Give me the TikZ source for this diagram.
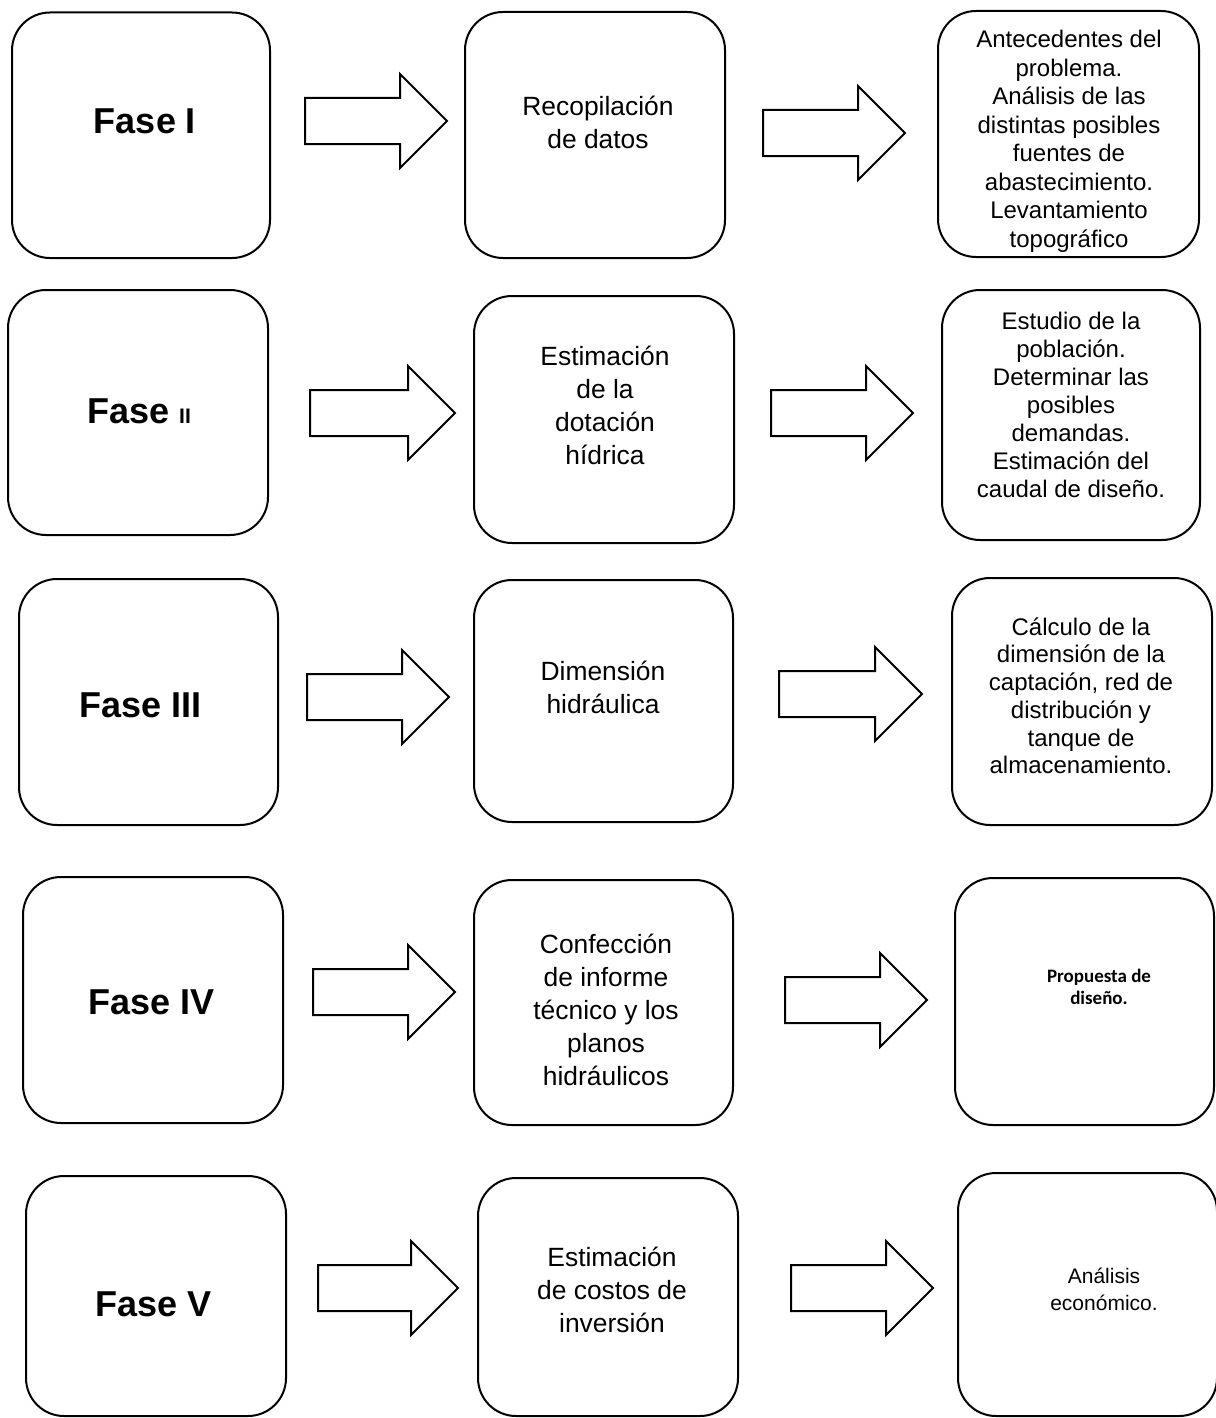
\documentclass[tikz,border=0pt]{standalone}
\usepackage{fontspec}
\setmainfont{Liberation Sans}
\newfontfamily\calibrifont{Carlito}
\begin{document}
\begin{tikzpicture}[x=1pt,y=-1pt,
  box/.style={draw, line width=2pt, rounded corners=38pt, inner sep=0pt},
  arr/.style={draw, line width=2pt, line join=miter, fill=white},
  fase/.style={font=\fontsize{36}{40}\selectfont\bfseries, inner sep=0pt, anchor=base},
  txtB/.style={font=\fontsize{26.4}{33}\selectfont, align=center, inner sep=0pt, anchor=north},
  txtC/.style={font=\fontsize{24}{28.5}\selectfont, align=center, inner sep=0pt, anchor=north}
]
\useasboundingbox (0,0) rectangle (1215,1418);
\newcommand\rbox[5]{\node[box, minimum width={(#3-#2)*1pt}, minimum height={(#5-#4)*1pt}] (#1) at ({(#2+#3)/2},{(#4+#5)/2}) {};}
\newcommand\barrow[3]{\draw[arr] (#1,{#3-23}) -- ({#2-47},{#3-23}) -- ({#2-47},{#3-47}) -- (#2,#3) -- ({#2-47},{#3+47}) -- ({#2-47},{#3+23}) -- (#1,{#3+23}) -- cycle;}
\newcommand\fl{\rule{0pt}{1em}}

% row 1
\rbox{a1}{12}{270}{12.5}{258}
\rbox{b1}{465}{725}{12}{258}
\rbox{c1}{938}{1199}{11}{257}
\barrow{305}{447}{121}
\barrow{763}{905}{133}
% row 2
\rbox{a2}{8}{268}{290}{535}
\rbox{b2}{474}{734}{296}{543}
\rbox{c2}{942}{1200}{290}{540}
\barrow{310}{455}{413}
\barrow{771}{913}{413}
% row 3
\rbox{a3}{19}{278}{579}{825}
\rbox{b3}{474}{733}{580}{822}
\rbox{c3}{952}{1212}{578}{825}
\barrow{307}{449}{697}
\barrow{779}{922}{694}
% row 4
\rbox{a4}{23}{283}{877}{1123}
\rbox{b4}{474}{733}{880}{1125}
\rbox{c4}{955}{1214}{878}{1125}
\barrow{313}{455}{992}
\barrow{785}{927}{1000}
% row 5
\rbox{a5}{26}{286}{1176}{1416}
\rbox{b5}{478}{738}{1178}{1416}
\rbox{c5}{958}{1217}{1173}{1416}
\barrow{318}{458}{1288}
\barrow{791}{933}{1288}

% texts
\node[fase] (ta1) at (145,133) {Fase I};
\node[fase] (ta2) at (139,423) {Fase {\fontsize{21}{24}\selectfont II}};
\node[fase] (ta3) at (140.5,717) {Fase III};
\node[fase] (ta4) at (152,1014) {Fase IV};
\node[fase] (ta5) at (154,1316) {Fase V};

\node[txtB] (tb1) at (598,{115-26.4}) {\fl Recopilación\\de datos};
\node[txtB] (tb2) at (605,{365-26.4}) {\fl Estimación\\de la\\dotación\\hídrica};
\node[txtB] (tb3) at (603,{680-26.4}) {\fl Dimensión\\hidráulica};
\node[txtB] (tb4) at (606,{953-26.4}) {\fl Confección\\de informe\\técnico y los\\planos\\hidráulicos};
\node[txtB] (tb5) at (612,{1266-26.4}) {\fl Estimación\\de costos de\\inversión};

\node[txtC] (tc1) at (1069,{47.3-24}) {\fl Antecedentes del\\problema.\\Análisis de las\\distintas posibles\\fuentes de\\abastecimiento.\\Levantamiento\\topográfico};
\node[txtC, font=\fontsize{24}{28}\selectfont] (tc2) at (1071,{329-24}) {\fl Estudio de la\\población.\\Determinar las\\posibles\\demandas.\\Estimación del\\caudal de diseño.};
\node[txtC, font=\fontsize{24}{27.7}\selectfont] (tc3) at (1081,{635-24}) {\fl Cálculo de la\\dimensión de la\\captación, red de\\distribución y\\tanque de\\almacenamiento.};
\node[txtC, font=\fontsize{19}{22}\selectfont\calibrifont\bfseries] (tc4) at (1099,{982-19}) {\fl Propuesta de\\diseño.};
\node[txtC, font=\fontsize{21}{27}\selectfont] (tc5) at (1104,{1283-21}) {\fl Análisis\\económico.};
\end{tikzpicture}
\end{document}
